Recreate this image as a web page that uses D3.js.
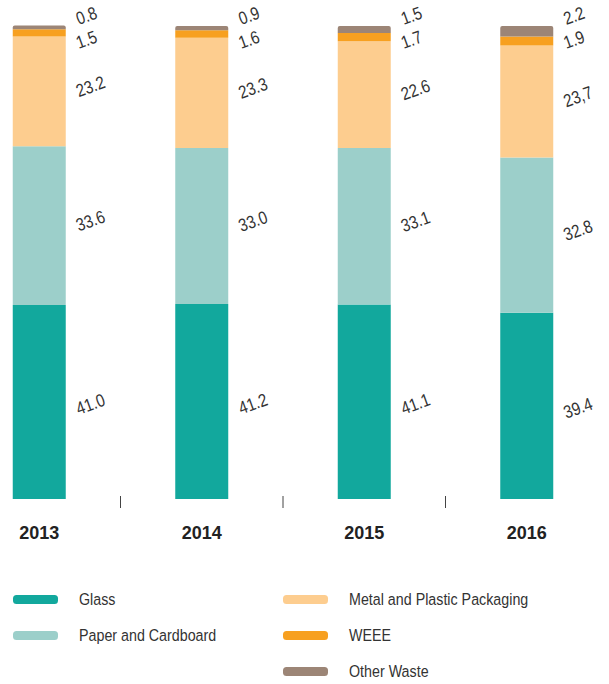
<!DOCTYPE html>
<html>
<head>
<meta charset="utf-8">
<script src="https://d3js.org/d3.v7.min.js"></script>
<style>
    body { margin: 0; background: #fff; }
    svg { display: block; font-family: "Liberation Sans", Arial, sans-serif; }
</style>
</head>
<body>
<div id="root"></div>
<script>
// data
const years = ['2013', '2014', '2015', '2016'];
const categories = ['Glass', 'Paper and Cardboard', 'Metal and Plastic Packaging', 'WEEE', 'Other Waste'];
const glass = [41.0, 41.2, 41.1, 39.4];
const paper = [33.6, 33.0, 33.1, 32.8];
const metal = [23.2, 23.3, 22.6, 23.7];
const weee = [1.5, 1.6, 1.7, 1.9];
const other = [0.8, 0.9, 1.5, 2.2];
const valueLabels = [
    ['41.0', '41.2', '41.1', '39.4'],
    ['33.6', '33.0', '33.1', '32.8'],
    ['23.2', '23.3', '22.6', '23,7'],
    ['1.5', '1.6', '1.7', '1.9'],
    ['0.8', '0.9', '1.5', '2.2']
];
const colors = ['#12a89d', '#9ccfca', '#fdcd8f', '#f7a020', '#9c8576'];

const width = 609, height = 684;
const series = [glass, paper, metal, weee, other];
const narrow = 0.84; // the original font is a condensed face

// build rows for d3.stack
const rows = years.map((y, i) => {
    const r = { year: y };
    categories.forEach((c, k) => r[c] = series[k][i]);
    return r;
});
const stacked = d3.stack().keys(categories)(rows);

const x = d3.scaleBand().domain(years).range([-42, 608]).paddingInner(0).paddingOuter(0);
const barW = 53;
const y = d3.scaleLinear().domain([0, 100]).range([499, 26]);

const svg = d3.select('#root').append('svg')
    .attr('width', width)
    .attr('height', height);

// bars
stacked.forEach((layer, k) => {
    const isTop = k === stacked.length - 1;
    svg.append('g').selectAll('path')
        .data(layer)
        .join('path')
        .attr('fill', colors[k])
        .attr('d', d => {
            const x0 = x(d.data.year) + (x.bandwidth() - barW) / 2;
            const x1 = x0 + barW;
            const y0 = y(d[1]), y1 = y(d[0]);
            if (!isTop) return `M${x0},${y0}H${x1}V${y1}H${x0}Z`;
            const r = 2;
            return `M${x0},${y1}V${y0 + r}Q${x0},${y0} ${x0 + r},${y0}H${x1 - r}Q${x1},${y0} ${x1},${y0 + r}V${y1}Z`;
        });
});

// value labels, rotated
stacked.forEach((layer, k) => {
    svg.append('g').selectAll('text')
        .data(layer)
        .join('text')
        .attr('transform', (d, i) => {
            const lx = x(d.data.year) + (x.bandwidth() + barW) / 2 + 13;
            let ly = (y(d[0]) + y(d[1])) / 2 + 6;
            if (k === 0) ly += 7;
            if (k === 3) ly = y(100) + 23;   // thin segments: labels stacked above/below top
            if (k === 4) ly = y(100) - 1;
            return `translate(${lx},${ly}) rotate(-20) scale(${narrow},1)`;
        })
        .attr('font-size', 18)
        .attr('fill', '#333')
        .text((d, i) => valueLabels[k][i]);
});

// tick marks between bands
svg.append('g').selectAll('line')
    .data(years.slice(1))
    .join('line')
    .attr('x1', d => x(d)).attr('x2', d => x(d))
    .attr('y1', 496).attr('y2', 508)
    .attr('stroke', '#444')
    .attr('stroke-width', 1);

// year labels
svg.append('g').selectAll('text')
    .data(years)
    .join('text')
    .attr('x', d => x(d) + x.bandwidth() / 2)
    .attr('y', 539)
    .attr('text-anchor', 'middle')
    .attr('font-size', 18)
    .attr('font-weight', 'bold')
    .attr('fill', '#222')
    .text(d => d);

// legend
const legendPos = [[13, 599], [13, 635], [283, 599], [283, 635], [283, 671]];
const legend = svg.append('g').selectAll('g')
    .data(categories)
    .join('g')
    .attr('transform', (d, i) => `translate(${legendPos[i][0]},${legendPos[i][1]})`);
legend.append('rect')
    .attr('x', 0).attr('y', -4)
    .attr('width', 45).attr('height', 9)
    .attr('rx', 3.5)
    .attr('fill', (d, i) => colors[i]);
legend.append('text')
    .attr('transform', `translate(66,6) scale(${narrow},1)`)
    .attr('font-size', 17)
    .attr('fill', '#333')
    .text(d => d);
</script>
</body>
</html>
